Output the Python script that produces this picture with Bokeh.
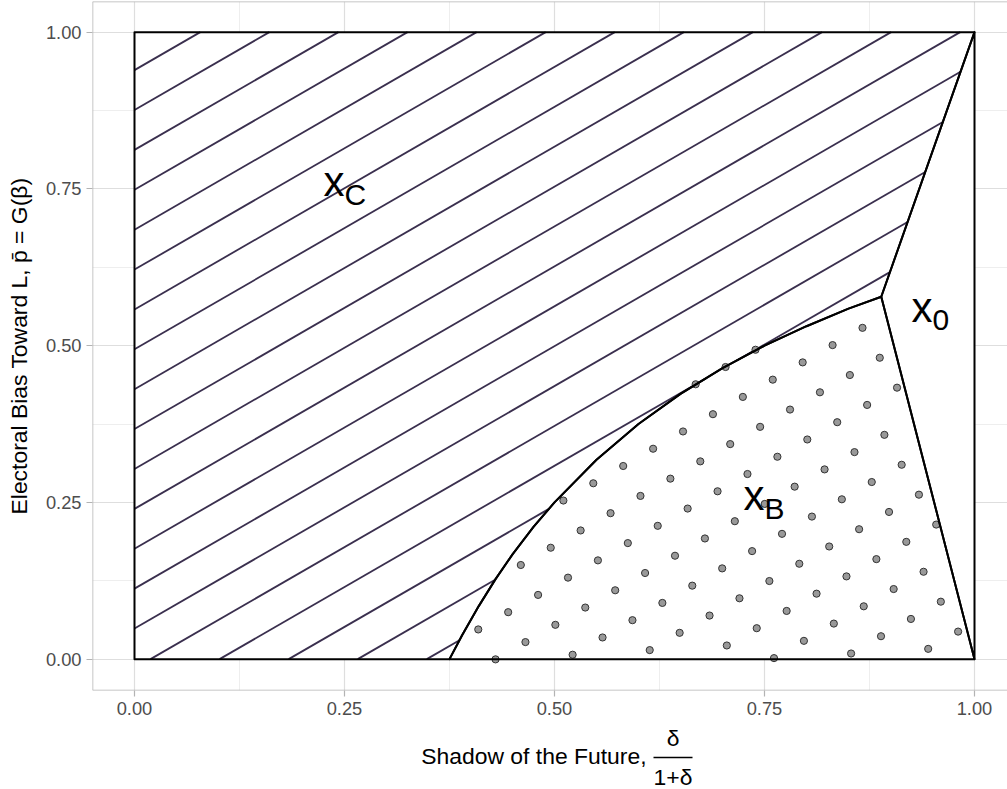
import numpy as np
from bokeh.plotting import figure
from bokeh.layouts import column
from bokeh.models import FixedTicker, Span, Range1d
from bokeh.core.properties import value
from bokeh.embed import file_html
from bokeh.resources import INLINE

# ---------------- data ----------------
# boundary between x_B (below) and x_C (above), ending at the triple point
curve_x = [0.375, 0.39, 0.41, 0.43, 0.45, 0.475, 0.50, 0.55, 0.60, 0.65, 0.70, 0.75, 0.80, 0.85, 0.889]
curve_y = [0.000, 0.038, 0.085, 0.128, 0.167, 0.211, 0.250, 0.318, 0.375, 0.423, 0.464, 0.500, 0.531, 0.559, 0.578]
# unit square corners
square_x = [0.0, 0.0, 1.0, 1.0]
square_y = [0.0, 1.0, 1.0, 0.0]

region_main = ["x", "x", "x"]
region_sub = ["C", "B", "0"]
region_lx = [0.25, 0.75, 0.95]
region_ly = [0.75, 0.25, 0.55]

x_ticks = [0.0, 0.25, 0.5, 0.75, 1.0]
x_tick_labels = ["0.00", "0.25", "0.50", "0.75", "1.00"]
y_ticks = [0.0, 0.25, 0.5, 0.75, 1.0]
y_tick_labels = ["0.00", "0.25", "0.50", "0.75", "1.00"]
minor_ticks = [0.125, 0.375, 0.625, 0.875]

x_title = "Shadow of the Future,"
frac_num = "\u03b4"
frac_den = "1+\u03b4"
y_title = "Electoral Bias Toward L, p\u0304 = G(\u03b2)"

# ---------------- layout ----------------
PXX, PXY = 840.0, 627.0          # pixels per data unit
FONT = "Liberation Sans"
W = 1007
H1 = 723                         # main figure height
H2 = 789 - H1                    # strip holding the x-axis title
left_b, top_b, bottom_b = 92, 1, 33
frame_w = W - left_b
frame_h = H1 - top_b - bottom_b

p = figure(width=W, height=H1, output_backend="svg", toolbar_location=None,
           x_range=(-0.05, -0.05 + frame_w / PXX),
           y_range=(-0.05, -0.05 + frame_h / PXY),
           min_border_left=left_b, min_border_right=0,
           min_border_top=top_b, min_border_bottom=bottom_b,
           background_fill_color="white", border_fill_color="white")
p.outline_line_color = None

# grid
for g, t in ((p.xgrid, x_ticks), (p.ygrid, y_ticks)):
    g.ticker = FixedTicker(ticks=t, minor_ticks=minor_ticks)
    g.grid_line_color = "#DEDEDE"
    g.grid_line_width = 1.2
    g.minor_grid_line_color = "#E6E6E6"
    g.minor_grid_line_width = 0.7

for ax, t, lab in ((p.xaxis[0], x_ticks, x_tick_labels), (p.yaxis[0], y_ticks, y_tick_labels)):
    ax.ticker = FixedTicker(ticks=t)
    ax.major_label_overrides = {k: v for k, v in zip(t, lab)}
    ax.axis_line_color = None
    ax.major_tick_line_color = "#B3B3B3"
    ax.major_tick_line_width = 1.2
    ax.major_tick_in = 0
    ax.major_tick_out = 6
    ax.minor_tick_line_color = None
    ax.major_label_text_font = FONT
    ax.major_label_text_font_size = "18.3px"
    ax.major_label_text_color = "#4D4D4D"
    ax.major_label_standoff = 5

p.yaxis.axis_label = y_title
p.yaxis.axis_label_text_font = FONT
p.yaxis.axis_label_text_font_size = "22.9px"
p.yaxis.axis_label_text_font_style = "normal"
p.yaxis.axis_label_text_color = "black"
p.yaxis.axis_label_standoff = 11

# panel border (left, top, bottom; right edge lies beyond the window)
for loc, dim in ((p.x_range.start, "height"), (p.y_range.start, "width"), (p.y_range.end, "width")):
    p.add_layout(Span(location=loc, dimension=dim, line_color="#B3B3B3", line_width=1.5))

# ---------------- regions ----------------
xc_x = square_x[:3] + curve_x[::-1]
xc_y = square_y[:3] + curve_y[::-1]
xb_x = curve_x + [square_x[3]]
xb_y = curve_y + [square_y[3]]
x0_x = [curve_x[-1], square_x[2], square_x[3]]
x0_y = [curve_y[-1], square_y[2], square_y[3]]

p.patches([xc_x, xb_x, x0_x], [xc_y, xb_y, x0_y], fill_color="white", line_color=None)

# ---------------- pattern fills (stripes on x_C, dots on x_B) ----------------
ANG = np.radians(30)
C, S = np.cos(ANG), np.sin(ANG)
SP = 34.54          # pattern spacing, px
V0, U0 = 8.0, 1.7   # pattern phase, px


def to_px(xs, ys):
    return [(x * PXX, y * PXY) for x, y in zip(xs, ys)]


def cross(a, b):
    return a[0] * b[1] - a[1] * b[0]


def inside(pt, poly):
    x, y = pt
    n = len(poly)
    res = False
    for i in range(n):
        x1, y1 = poly[i]
        x2, y2 = poly[(i + 1) % n]
        if (y1 > y) != (y2 > y):
            xi = x1 + (y - y1) * (x2 - x1) / (y2 - y1)
            if xi > x:
                res = not res
    return res


def dist_to_poly(pt, poly):
    best = 1e9
    n = len(poly)
    for i in range(n):
        a = np.array(poly[i]); b = np.array(poly[(i + 1) % n])
        e = b - a
        t = np.clip(np.dot(np.array(pt) - a, e) / np.dot(e, e), 0, 1)
        best = min(best, np.linalg.norm(np.array(pt) - (a + t * e)))
    return best


def clip_line(P, d, poly):
    ts = []
    n = len(poly)
    for i in range(n):
        A = np.array(poly[i]); B = np.array(poly[(i + 1) % n])
        e = B - A
        den = cross(d, e)
        if abs(den) < 1e-12:
            continue
        w = A - P
        t = cross(w, e) / den
        s = cross(w, d) / den
        if -1e-9 <= s <= 1 + 1e-9:
            ts.append(t)
    ts = sorted(ts)
    segs = []
    for t1, t2 in zip(ts[:-1], ts[1:]):
        if t2 - t1 < 1e-6:
            continue
        m = P + 0.5 * (t1 + t2) * d
        if inside(m, poly):
            segs.append((P + t1 * d, P + t2 * d))
    return segs


poly_c = to_px(xc_x, xc_y)
poly_b = to_px(xb_x, xb_y)
d = np.array([C, S])
hx, hy = [], []
for k in range(-20, 16):
    v = V0 + k * SP
    P = np.array([S * v, -C * v])
    for a, b in clip_line(P, d, poly_c):
        hx.append([a[0] / PXX, b[0] / PXX])
        hy.append([a[1] / PXY, b[1] / PXY])
p.multi_line(hx, hy, line_color="#3a2f4e", line_width=1.8)

dots_x, dots_y = [], []
for i in range(-2, 33):
    for j in range(-18, 15):
        u = U0 + i * SP
        v = V0 + j * SP
        X = C * u + S * v
        Y = S * u - C * v
        if inside((X, Y), poly_b) or dist_to_poly((X, Y), poly_b) < 1.0:
            dots_x.append(X / PXX)
            dots_y.append(Y / PXY)
p.scatter(dots_x, dots_y, size=7.2, fill_color="#999999", line_color="#333333", line_width=1.0)

# outlines
p.patches([xc_x, xb_x, x0_x], [xc_y, xb_y, x0_y], fill_color=None,
          line_color="black", line_width=2, line_join="round")

# region labels
p.text(x=region_lx, y=region_ly, text=region_main, x_offset=-21, y_offset=-7,
       text_font=value(FONT), text_font_size="42px", text_align="left",
       text_baseline="middle", text_color="black")
p.text(x=region_lx, y=region_ly, text=region_sub, x_offset=0, y_offset=6,
       text_font=value(FONT), text_font_size="30px", text_align="left",
       text_baseline="middle", text_color="black")

# ---------------- x-axis title strip (page-pixel coordinates) ----------------
p2 = figure(width=W, height=H2, output_backend="svg", toolbar_location=None,
            x_range=Range1d(left_b, W), y_range=Range1d(789, H1),
            min_border_left=left_b, min_border_right=0, min_border_top=0, min_border_bottom=0,
            background_fill_color="white", border_fill_color="white")
p2.outline_line_color = None
p2.axis.visible = False
p2.grid.visible = False

TS = "22.9px"
title_x = [646, 672.5, 672.5]
title_y = [755, 737, 776]
title_txt = [x_title, frac_num, frac_den]
title_al = ["right", "center", "center"]
p2.text(x=title_x, y=title_y, text=title_txt, text_align=title_al,
        text_baseline="middle", text_font=value(FONT), text_font_size=TS, text_color="black")
p2.segment(x0=[653], y0=[757], x1=[692], y1=[757], line_color="black", line_width=1.5)

open("out.html", "w").write(file_html(column(p, p2, spacing=0), INLINE))
